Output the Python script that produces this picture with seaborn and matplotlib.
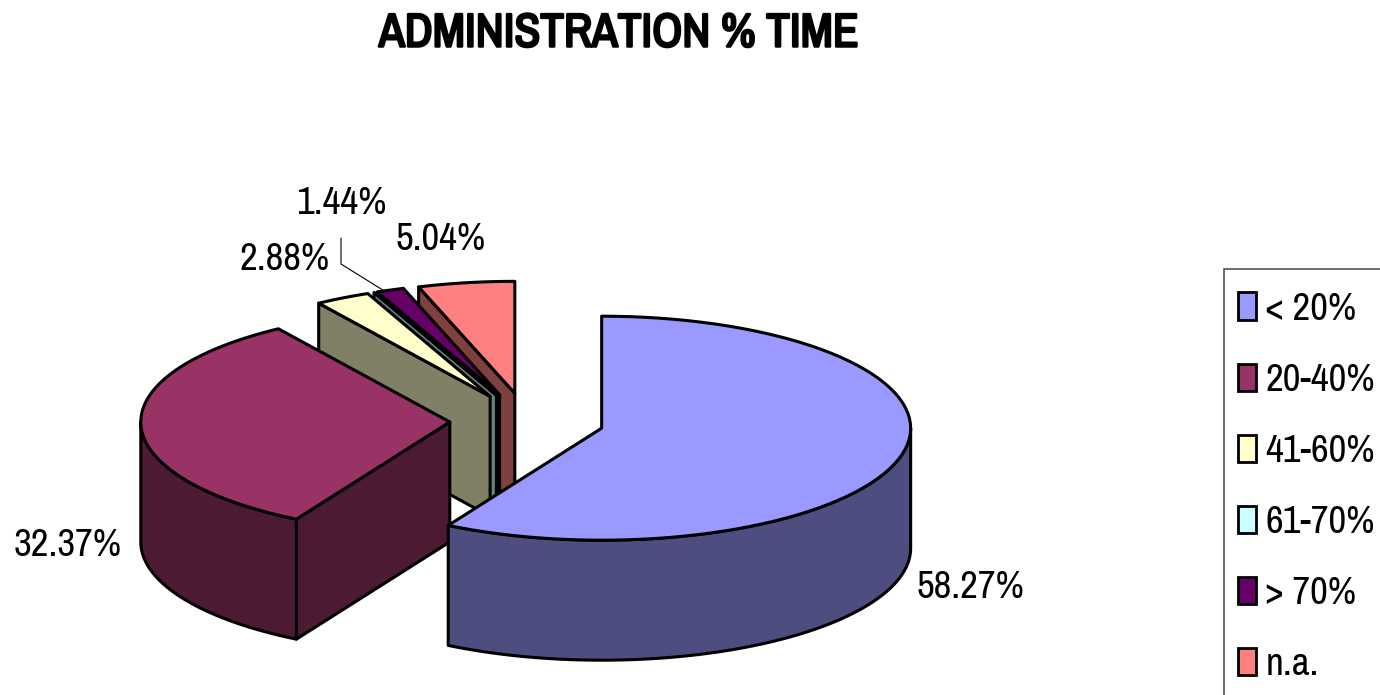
import numpy as np
import matplotlib
matplotlib.use("Agg")
import matplotlib.pyplot as plt
import matplotlib.patheffects as pe
from matplotlib.patches import Patch, Polygon, Rectangle
import seaborn as sns

# Data
categories = ["< 20%", "20-40%", "41-60%", "61-70%", "> 70%", "n.a."]
shares = [58.27, 32.37, 2.88, 0.0, 1.44, 5.04]
top_colors = ["#9999FF", "#993366", "#FFFFCC", "#CCFFFF", "#660066", "#FF8080"]
title = "ADMINISTRATION % TIME"

# Pie geometry in pixels
CENTER_X, CENTER_Y = 527, 421
RADIUS_X, RADIUS_Y = 309, 112
DEPTH = 120
EXPLODE = 0.25
EDGE = 2.2

# Label anchors (only the shares that carry a label)
label_pos = {0: (970, 587), 1: (68, 545), 2: (285, 260), 4: (341, 203), 5: (441, 239)}

sns.set_theme(style="white")
plt.rcParams["font.family"] = ["Archivo Narrow", "Roboto Condensed", "Liberation Sans", "DejaVu Sans"]
plt.rcParams["text.color"] = "black"
palette = sns.color_palette(top_colors)


def rim(theta, cx, cy):
    """Point on the top ellipse, theta is clockwise from 12 o'clock in radians."""
    return np.column_stack([cx + RADIUS_X * np.sin(theta), cy - RADIUS_Y * np.cos(theta)])


def draw_slice(ax, start, end, color):
    """Draw one exploded slice: walls first, then the top face."""
    mid = (start + end) / 2
    cx = CENTER_X + EXPLODE * RADIUS_X * np.sin(mid)
    cy = CENTER_Y - EXPLODE * RADIUS_Y * np.cos(mid)
    side = tuple(c * 0.5 for c in color)
    down = np.array([0, DEPTH])
    apex = np.array([cx, cy])

    # cut face on the start side, seen when it looks towards the viewer
    if np.sin(start) < 0:
        p = rim(np.array([start]), cx, cy)[0]
        ax.add_patch(Polygon([apex, p, p + down, apex + down], fc=side, ec="black", lw=EDGE, joinstyle="round"))

    # outer wall, only the front half of the ellipse
    lo, hi = max(start, np.pi / 2), min(end, 3 * np.pi / 2)
    if hi > lo:
        arc = rim(np.linspace(lo, hi, 80), cx, cy)
        ax.add_patch(Polygon(np.vstack([arc, arc[::-1] + down]), fc=side, ec="black", lw=EDGE, joinstyle="round"))

    # top face
    arc = rim(np.linspace(start, end, 80), cx, cy)
    ax.add_patch(Polygon(np.vstack([apex, arc]), fc=color, ec="black", lw=EDGE, joinstyle="round"))


fig = plt.figure(figsize=(13.8, 6.95), dpi=100)
ax = fig.add_axes([0, 0, 1, 1])
ax.set_xlim(0, 1380)
ax.set_ylim(695, 0)
ax.axis("off")

edges = np.radians(np.concatenate([[0], np.cumsum(shares)]) * 3.6)

# back slices first, the two large ones last
for i in range(len(shares) - 1, -1, -1):
    draw_slice(ax, edges[i], edges[i + 1], palette[i])

for i, (x, y) in label_pos.items():
    ax.text(x, y, f"{shares[i]:.2f}%", fontsize=28, color="black", ha="center", va="center")

# leader line of the 1.44% label
ax.plot([341, 341, 386], [238, 264, 292], color="black", lw=0.8)

# the narrow family has no bold cut here, so thicken it with a stroke
ax.text(
    618.5, 33, title, fontsize=34, color="black", ha="center", va="center",
    path_effects=[pe.withStroke(linewidth=1.8, foreground="black")],
)

# legend box runs off the right and bottom of the canvas, so it is drawn apart
ax.add_patch(Rectangle((1224, 269), 170, 440, fc="white", ec="#444444", lw=1.1))

handles = [Patch(fc=c, ec="black", lw=2, label=n) for c, n in zip(palette, categories)]
font_px = 28 * 100 / 72
ax.legend(
    handles=handles,
    loc="upper left",
    bbox_to_anchor=(1224 / 1380, 1 - 278 / 695),
    borderaxespad=0,
    frameon=False,
    fontsize=28,
    handlelength=18 / font_px,
    handleheight=27 / font_px,
    handletextpad=0.25,
    labelspacing=0.93,
    borderpad=0.35,
)

fig.savefig("out.png", dpi=100)
plt.close(fig)
